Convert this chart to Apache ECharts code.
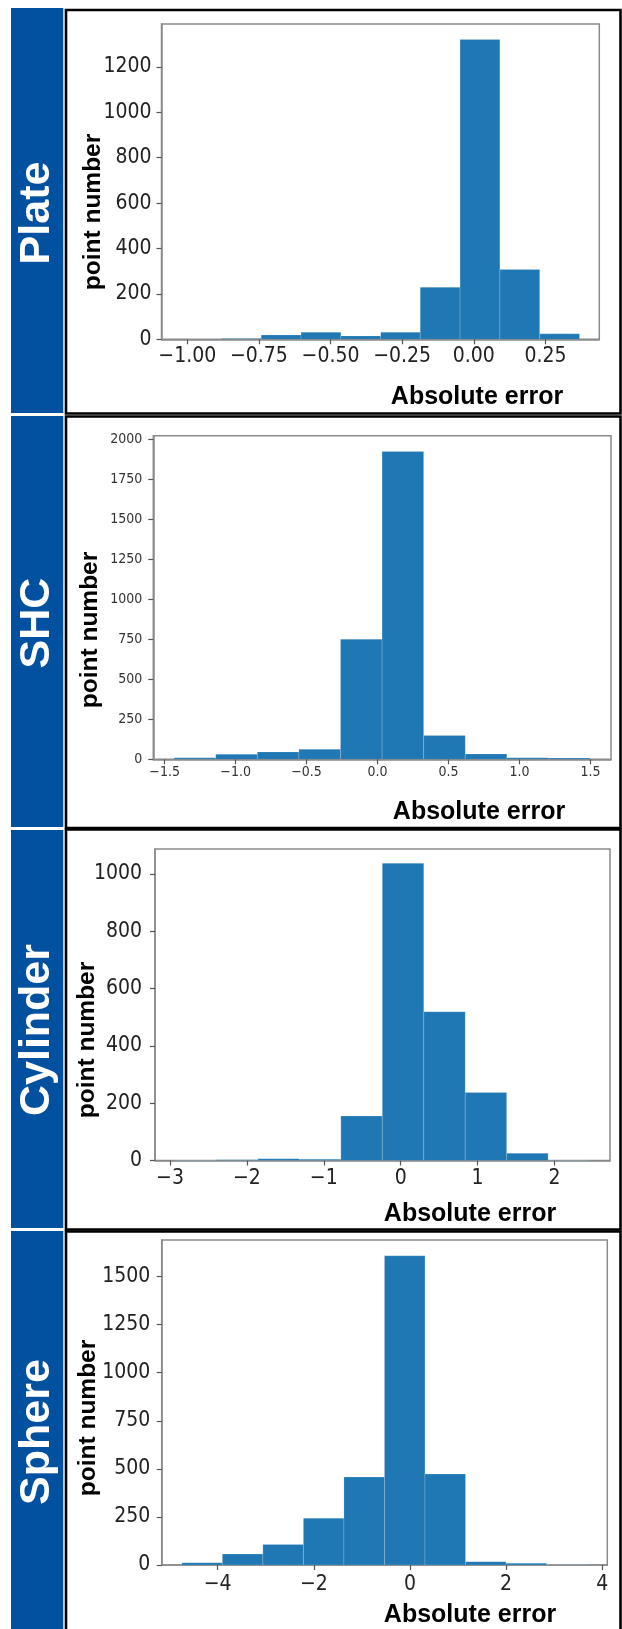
<!DOCTYPE html>
<html>
<head>
<meta charset="utf-8">
<script src="https://cdn.jsdelivr.net/npm/echarts@6/dist/echarts.min.js"></script>
<style>
  html, body { margin: 0; padding: 0; background: #ffffff; }
  #chart { width: 622px; height: 1629px; }
</style>
</head>
<body>
<div id="chart"></div>
<script>
// ---- Histogram data: bin edges (10 equal bins) and point counts per bin ----
const plateEdges  = [-1.020, -0.881, -0.742, -0.603, -0.464, -0.325, -0.187, -0.048, 0.091, 0.230, 0.369];
const plateCounts = [1, 4, 19, 31, 15, 31, 229, 1321, 308, 24];

const shcEdges  = [-1.433, -1.140, -0.847, -0.554, -0.261, 0.032, 0.325, 0.618, 0.911, 1.204, 1.497];
const shcCounts = [10, 31, 46, 62, 750, 1922, 148, 33, 10, 8];

const cylinderEdges  = [-2.934, -2.395, -1.856, -1.317, -0.778, -0.239, 0.300, 0.839, 1.378, 1.917, 2.456];
const cylinderCounts = [1, 3, 6, 4, 155, 1037, 519, 237, 25, 1];

const sphereEdges  = [-4.746, -3.903, -3.060, -2.217, -1.374, -0.531, 0.312, 1.155, 1.998, 2.841, 3.684];
const sphereCounts = [12, 57, 107, 243, 457, 1608, 473, 17, 9, 1];

// ---- Axis limits and tick values ----
const plateXRange = [-1.09, 0.438];
const plateYMax = 1389;
const plateXTicks = [-1.0, -0.75, -0.5, -0.25, 0, 0.25];
const plateYTicks = [0, 200, 400, 600, 800, 1000, 1200];

const shcXRange = [-1.58, 1.645];
const shcYMax = 2021;
const shcXTicks = [-1.5, -1.0, -0.5, 0, 0.5, 1.0, 1.5];
const shcYTicks = [0, 250, 500, 750, 1000, 1250, 1500, 1750, 2000];

const cylinderXRange = [-3.195, 2.722];
const cylinderYMax = 1087;
const cylinderXTicks = [-3, -2, -1, 0, 1, 2];
const cylinderYTicks = [0, 200, 400, 600, 800, 1000];

const sphereXRange = [-5.165, 4.105];
const sphereYMax = 1690;
const sphereXTicks = [-4, -2, 0, 2, 4];
const sphereYTicks = [0, 250, 500, 750, 1000, 1250, 1500];

// ---- Text ----
const panelNames = ['Plate', 'SHC', 'Cylinder', 'Sphere'];
const xTitle = 'Absolute error';
const yTitle = 'point number';

const panels = [
  { edges: plateEdges, counts: plateCounts, xRange: plateXRange, yMax: plateYMax, xTicks: plateXTicks, yTicks: plateYTicks, decimals: 2 },
  { edges: shcEdges, counts: shcCounts, xRange: shcXRange, yMax: shcYMax, xTicks: shcXTicks, yTicks: shcYTicks, decimals: 1 },
  { edges: cylinderEdges, counts: cylinderCounts, xRange: cylinderXRange, yMax: cylinderYMax, xTicks: cylinderXTicks, yTicks: cylinderYTicks, decimals: 0 },
  { edges: sphereEdges, counts: sphereCounts, xRange: sphereXRange, yMax: sphereYMax, xTicks: sphereXTicks, yTicks: sphereYTicks, decimals: 0 }
];

// ---- Layout (pixels) ----
const layout = [
  { grid: { left: 161.5, top: 24, width: 437.8, height: 315.3 }, font: 21, color: '#222', xMargin: 7, yMargin: 10,
    box: [10, 413.5], band: [8, 413], sideY: 213, yLab: [93.5, 212], xLab: [477, 397] },
  { grid: { left: 153.3, top: 435.7, width: 457.7, height: 323.6 }, font: 14, color: '#333', xMargin: 6.5, yMargin: 11,
    box: [416.5, 828], band: [416, 827], sideY: 623, yLab: [90, 630], xLab: [479, 812] },
  { grid: { left: 155, top: 849, width: 455, height: 311.5 }, font: 21, color: '#222', xMargin: 8, yMargin: 13,
    box: [829.5, 1229.5], band: [830, 1228], sideY: 1030, yLab: [87.5, 1040], xLab: [470, 1214] },
  { grid: { left: 161.7, top: 1240, width: 445.6, height: 325 }, font: 21, color: '#222', xMargin: 9, yMargin: 11.5,
    box: [1231.5, 1660], band: [1231, 1629], sideY: 1432, yLab: [88, 1418], xLab: [470, 1615.5] }
];

const tickFamily = "'DejaVu Sans Condensed', 'DejaVu Sans', sans-serif";
const boldFamily = "'Liberation Sans', Arial, sans-serif";
const BAR = '#1f77b4';
const BAND = '#0251a0';

function fmtTick(v, decimals) {
  const s = Math.abs(v).toFixed(decimals);
  return (v < 0 ? '\u2212' : '') + s;
}

function histItem(params, api) {
  const lo = api.coord([api.value(0), api.value(2)]);
  const hi = api.coord([api.value(1), 0]);
  return {
    type: 'rect',
    shape: { x: lo[0], y: lo[1], width: hi[0] - lo[0], height: hi[1] - lo[1] },
    style: { fill: BAR, stroke: 'rgba(255,255,255,0.22)', lineWidth: 0.8 }
  };
}

const grids = [], xAxes = [], yAxes = [], series = [], graphics = [];

panels.forEach((p, i) => {
  const L = layout[i];
  grids.push(Object.assign({ show: true, borderColor: '#8a8a8a', borderWidth: 1.5, backgroundColor: 'transparent', containLabel: false }, L.grid));
  xAxes.push({
    type: 'value', gridIndex: i, min: p.xRange[0], max: p.xRange[1],
    splitLine: { show: false },
    axisLine: { show: true, onZero: false, lineStyle: { color: '#8a8a8a', width: 1.5 } },
    axisTick: { show: true, inside: false, length: 5, customValues: p.xTicks, lineStyle: { color: '#555', width: 1.2 } },
    axisLabel: { show: true, customValues: p.xTicks, margin: L.xMargin, fontFamily: tickFamily, fontSize: L.font, color: L.color,
      formatter: v => fmtTick(v, p.decimals) }
  });
  yAxes.push({
    type: 'value', gridIndex: i, min: 0, max: p.yMax,
    splitLine: { show: false },
    axisLine: { show: true, onZero: false, lineStyle: { color: '#8a8a8a', width: 1.5 } },
    axisTick: { show: true, inside: false, length: 5, customValues: p.yTicks, lineStyle: { color: '#555', width: 1.2 } },
    axisLabel: { show: true, customValues: p.yTicks, margin: L.yMargin, fontFamily: tickFamily, fontSize: L.font, color: L.color,
      formatter: v => String(v) }
  });
  const data = p.counts.map((c, k) => [p.edges[k], p.edges[k + 1], c]);
  series.push({
    type: 'custom', xAxisIndex: i, yAxisIndex: i, clip: true,
    renderItem: histItem, encode: { x: [0, 1], y: 2 }, data: data, silent: true
  });

  // blue side band with the geometry name
  graphics.push({ type: 'rect', shape: { x: 11, y: L.band[0], width: 52.3, height: L.band[1] - L.band[0] }, style: { fill: BAND }, z: 0 });
  graphics.push({ type: 'text', x: 37, y: L.sideY, rotation: Math.PI / 2,
    style: { text: panelNames[i], fill: '#ffffff', fontFamily: boldFamily, fontWeight: 'bold', fontSize: 43, align: 'center', verticalAlign: 'middle' }, z: 5 });

  // black panel frame
  graphics.push({ type: 'rect', shape: { x: 66, y: L.box[0], width: 554.5, height: L.box[1] - L.box[0] },
    style: { fill: 'none', stroke: '#000000', lineWidth: 2.6 }, z: 4 });

  // axis titles
  graphics.push({ type: 'text', x: L.xLab[0], y: L.xLab[1],
    style: { text: xTitle, fill: '#000', fontFamily: boldFamily, fontWeight: 'bold', fontSize: 25, align: 'center', verticalAlign: 'middle' }, z: 5 });
  graphics.push({ type: 'text', x: L.yLab[0], y: L.yLab[1], rotation: Math.PI / 2,
    style: { text: yTitle, fill: '#000', fontFamily: boldFamily, fontWeight: 'bold', fontSize: 24.5, align: 'center', verticalAlign: 'middle' }, z: 5 });
});

const chart = echarts.init(document.getElementById('chart'), null, { renderer: 'canvas', width: 622, height: 1629 });
chart.setOption({
  animation: false,
  backgroundColor: '#ffffff',
  grid: grids,
  xAxis: xAxes,
  yAxis: yAxes,
  series: series,
  graphic: { elements: graphics }
});
</script>
</body>
</html>
